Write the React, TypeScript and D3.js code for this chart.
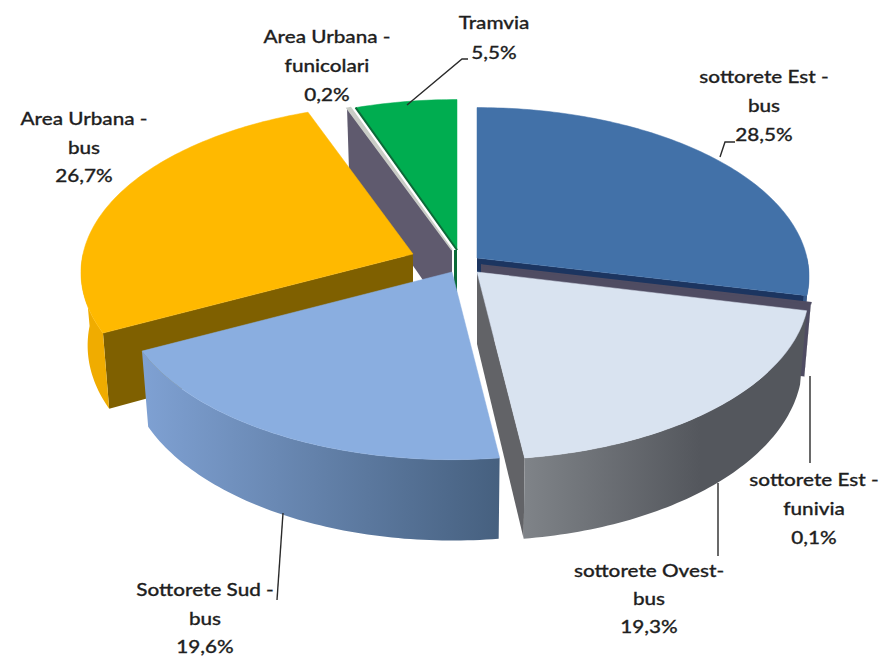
import React from "react";
import * as d3 from "d3";

const categories = [
  "sottorete Est - bus",
  "sottorete Est - funivia",
  "sottorete Ovest - bus",
  "Sottorete Sud - bus",
  "Area Urbana - bus",
  "Area Urbana - funicolari",
  "Tramvia",
];
const shares = [28.5, 0.1, 19.3, 19.6, 26.7, 0.2, 5.5];

// layout (not data)
const apexes: [number, number][] = [
  [477, 258], [481, 265], [477, 272], [452, 272], [413, 254], [452, 250], [457, 250],
];
const topColors = ["#4271a8", "#4f4c62", "#d9e3f0", "#8aaee0", "#ffb900", "#c9ccc6", "#00ad50"];
const cutColors = ["#1c3560", "#4f4c62", "#626367", "#6d8cba", "#7f6000", "#5f5a6e", "#0b6b38"];
const wallStops: [string, string][] = [
  ["#36598a", "#36598a"], ["#4a4a5a", "#4a4a5a"], ["#7f8388", "#54575d"],
  ["#7fa1d3", "#46607f"], ["#f0ac00", "#c08c00"], ["#5f5a6e", "#5f5a6e"], ["#0b6b38", "#0b6b38"],
];
const drawOrder = [5, 6, 0, 1, 4, 2, 3];
const cutEdge: ("start" | "end" | null)[] = ["end", "start", "end", null, "start", "start", null];

const labelLines: string[][] = [
  ["sottorete Est -", "bus"],
  ["sottorete Est -", "funivia"],
  ["sottorete Ovest-", "bus"],
  ["Sottorete Sud -", "bus"],
  ["Area Urbana -", "bus"],
  ["Area Urbana -", "funicolari"],
  ["Tramvia"],
];
const labelAnchors: [number, number][] = [
  [764, 83], [814, 486], [649, 577], [205, 596], [84, 125], [327, 43], [494, 29],
];
const lineGaps = [29, 29, 28, 28.5, 28.5, 29, 30];
const leaders: [number, number][][] = [
  [[720, 157], [725, 142], [735, 142]],
  [[810, 376], [810, 463]],
  [[718, 483], [718, 556]],
  [[283, 513], [277, 600]],
  [],
  [],
  [[407, 105], [462, 59], [468, 59]],
];

const Rx = 330, Ry = 167, P = 0.11, DEPTH = 72;

const pie = d3.pie<number>().sort(null).value((d) => d)(shares);

function project(i: number, angle: number, lower = false): [number, number] {
  const [ax, ay] = apexes[i];
  const X = Math.sin(angle), Y = -Math.cos(angle);
  const w = 1 - P * Y;
  const dx = (X * Rx) / w, dy = (Y * Ry) / w;
  return lower ? [ax + dx * 0.98, ay + dy + DEPTH / w] : [ax + dx, ay + dy];
}
const line = d3.line<[number, number]>().curve(d3.curveLinear);
const sweep = (a0: number, a1: number) => {
  const n = Math.max(2, Math.ceil(((a1 - a0) * 180) / Math.PI));
  return d3.range(n + 1).map((k) => a0 + ((a1 - a0) * k) / n);
};

export default function App() {
  const fmt = (v: number) => v.toFixed(1).replace(".", ",") + "%";
  return (
    <svg width={886} height={658} style={{ position: "absolute", left: 0, top: 0, background: "#fff" }}>
      <defs>
        {pie.map((p, i) => {
          const a = project(i, p.startAngle), b = project(i, p.endAngle);
          return (
            <linearGradient key={i} id={`wall${i}`} gradientUnits="userSpaceOnUse"
              x1={Math.min(a[0], b[0])} x2={i === 2 ? 700 : Math.max(a[0], b[0])} y1={0} y2={0}>
              <stop offset="0" stopColor={wallStops[i][0]} />
              <stop offset="1" stopColor={wallStops[i][1]} />
            </linearGradient>
          );
        })}
      </defs>
      {drawOrder.map((i) => {
        const p = pie[i];
        const [ax, ay] = apexes[i];
        const lo = Math.max(p.startAngle, Math.PI / 2), hi = Math.min(p.endAngle, (3 * Math.PI) / 2);
        const wallPath =
          hi > lo
            ? line([
                ...sweep(lo, hi).map((a) => project(i, a)),
                ...sweep(lo, hi).reverse().map((a) => project(i, a, true)),
              ]) + "Z"
            : null;
        const edge = cutEdge[i];
        const edgeAngle = edge === "start" ? p.startAngle : p.endAngle;
        const cutPath = edge
          ? line([
              [ax, ay],
              project(i, edgeAngle),
              project(i, edgeAngle, true),
              [ax, ay + DEPTH],
            ]) + "Z"
          : null;
        const topPath =
          line([[ax, ay], ...sweep(p.startAngle, p.endAngle).map((a) => project(i, a))]) + "Z";
        const startRim = project(i, p.startAngle);
        return (
          <g key={i}>
            {cutPath && <path d={cutPath} fill={cutColors[i]} />}
            {wallPath && <path d={wallPath} fill={`url(#wall${i})`} />}
            {i === 6 && (
              <line x1={ax - 1.5} y1={ay} x2={ax - 1.5} y2={ay + DEPTH} stroke={cutColors[i]} strokeWidth={3} />
            )}
            <path d={topPath} fill={topColors[i]} stroke={topColors[i]} strokeWidth={i === 1 || i === 5 ? 1.5 : 0.5} />
            {i === 6 && (
              <line x1={ax} y1={ay} x2={startRim[0]} y2={startRim[1]} stroke={cutColors[i]} strokeWidth={2} />
            )}
          </g>
        );
      })}
      {leaders.map((l, i) =>
        l.length ? <path key={i} d={line(l) ?? ""} fill="none" stroke="#2a2a2a" strokeWidth={1.4} /> : null
      )}
      <g fontFamily="Lato, 'Open Sans', sans-serif" fontSize={18} fontWeight={500} fill="#1f1f1f" textAnchor="middle"
         stroke="#1f1f1f" strokeWidth={0.3}>
        {categories.map((c, i) => {
          const rows = [...labelLines[i], fmt(shares[i])];
          return (
            <g key={c}>
              {rows.map((t, k) => (
                <text key={k}
                  transform={`translate(${labelAnchors[i][0]},${labelAnchors[i][1] + k * lineGaps[i]}) scale(1.15,1)`}>
                  {t}
                </text>
              ))}
            </g>
          );
        })}
      </g>
    </svg>
  );
}
